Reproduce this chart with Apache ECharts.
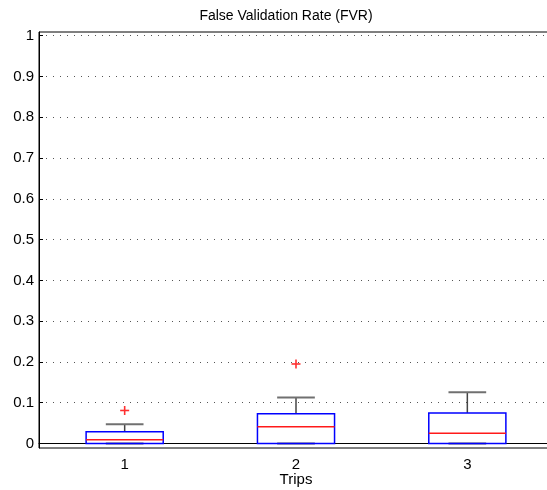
<!DOCTYPE html>
<html>
<head>
<meta charset="utf-8">
<script src="https://cdn.jsdelivr.net/npm/echarts@6/dist/echarts.min.js"></script>
<style>
  html, body { margin: 0; padding: 0; background: #fff; }
  #chart { width: 547px; height: 490px; }
</style>
</head>
<body>
<div id="chart"></div>
<script>
// Box statistics per trip count
const trips = ['1', '2', '3'];
const lowerWhisker = [0, 0, 0];
const q1 = [0, 0, 0];
const median = [0.009, 0.041, 0.025];
const q3 = [0.0287, 0.073, 0.075];
const upperWhisker = [0.047, 0.113, 0.126];
// Outliers: trip index and value
const outlierTrip = [0, 1];
const outlierValue = [0.081, 0.195];
// Y axis ticks
const yTicks = [0, 0.1, 0.2, 0.3, 0.4, 0.5, 0.6, 0.7, 0.8, 0.9, 1];
const yTickLabels = ['0', '0.1', '0.2', '0.3', '0.4', '0.5', '0.6', '0.7', '0.8', '0.9', '1'];

const FONT = 'Liberation Sans, Arial, Helvetica, sans-serif';

const chart = echarts.init(document.getElementById('chart'), null, { renderer: 'canvas' });

function renderBox(params, api) {
  const i = api.value(0);
  const lo = api.value(1), a = api.value(2), m = api.value(3), b = api.value(4), hi = api.value(5);
  const band = api.size([1, 0])[0];
  const bw = band * 0.45, cw = band * 0.22;
  const cx = api.coord([i, 0])[0];
  const y = v => api.coord([i, v])[1];
  const line = (x1, y1, x2, y2, stroke, w) => ({
    type: 'line',
    shape: { x1, y1, x2, y2 },
    style: { stroke, lineWidth: w }
  });
  return {
    type: 'group',
    children: [
      line(cx, y(lo), cx, y(a), '#333', 1),
      line(cx - cw / 2, y(lo), cx + cw / 2, y(lo), '#666', 2),
      line(cx, y(b), cx, y(hi), '#444', 1.5),
      line(cx - cw / 2, y(hi), cx + cw / 2, y(hi), '#707070', 2),
      {
        type: 'rect',
        shape: { x: cx - bw / 2, y: y(b), width: bw, height: y(a) - y(b) },
        style: { fill: 'none', stroke: '#0000ff', lineWidth: 1.5 }
      },
      line(cx - bw / 2, y(m), cx + bw / 2, y(m), '#ff1a1a', 1.5)
    ]
  };
}

function renderPlus(params, api) {
  const p = api.coord([api.value(0), api.value(1)]);
  const h = 4.5;
  return {
    type: 'group',
    children: [
      { type: 'line', shape: { x1: p[0] - h, y1: p[1], x2: p[0] + h, y2: p[1] }, style: { stroke: '#ff3030', lineWidth: 1.6 } },
      { type: 'line', shape: { x1: p[0], y1: p[1] - h, x2: p[0], y2: p[1] + h }, style: { stroke: '#ff3030', lineWidth: 1.6 } }
    ]
  };
}

const option = {
  backgroundColor: '#fff',
  animation: false,
  title: {
    text: 'False Validation Rate (FVR)',
    left: 281,
    top: 4,
    textAlign: 'center',
    textStyle: { fontFamily: FONT, fontSize: 14, fontWeight: 'normal', color: '#000' }
  },
  grid: {
    left: 39, top: 32, width: 514, height: 416,
    outerBoundsMode: 'none',
    containLabel: false,
    show: true, borderColor: '#000', borderWidth: 1, backgroundColor: 'transparent'
  },
  xAxis: {
    type: 'category',
    data: trips,
    boundaryGap: true,
    axisLine: { lineStyle: { color: '#000', width: 1 } },
    axisTick: { show: false },
    axisLabel: { margin: 9, fontFamily: FONT, fontSize: 15, color: '#000' },
    splitLine: { show: false },
    name: 'Trips',
    nameLocation: 'middle',
    nameGap: 24,
    nameMoveOverlap: false,
    nameTextStyle: { fontFamily: FONT, fontSize: 15, color: '#000' }
  },
  yAxis: {
    type: 'value',
    min: -0.011,
    max: 1.009,
    axisLine: { show: true, lineStyle: { color: '#000', width: 1 } },
    axisTick: { show: true, inside: true, length: 4, customValues: yTicks, lineStyle: { color: '#000' } },
    axisLabel: {
      customValues: yTicks,
      margin: 5,
      fontFamily: FONT, fontSize: 15, color: '#000',
      formatter: v => {
        const k = yTicks.findIndex(t => Math.abs(t - v) < 1e-9);
        return k >= 0 ? yTickLabels[k] : '';
      }
    },
    splitLine: { show: true, lineStyle: { color: '#555', width: 1, type: [1, 6] } }
  },
  series: [
    {
      type: 'custom',
      renderItem: renderBox,
      encode: { x: 0, y: [1, 2, 3, 4, 5] },
      data: trips.map((t, i) => [i, lowerWhisker[i], q1[i], median[i], q3[i], upperWhisker[i]]),
      z: 3
    },
    {
      type: 'custom',
      renderItem: renderPlus,
      encode: { x: 0, y: 1 },
      data: outlierTrip.map((t, k) => [t, outlierValue[k]]),
      z: 4
    }
  ]
};

chart.setOption(option);
</script>
</body>
</html>
